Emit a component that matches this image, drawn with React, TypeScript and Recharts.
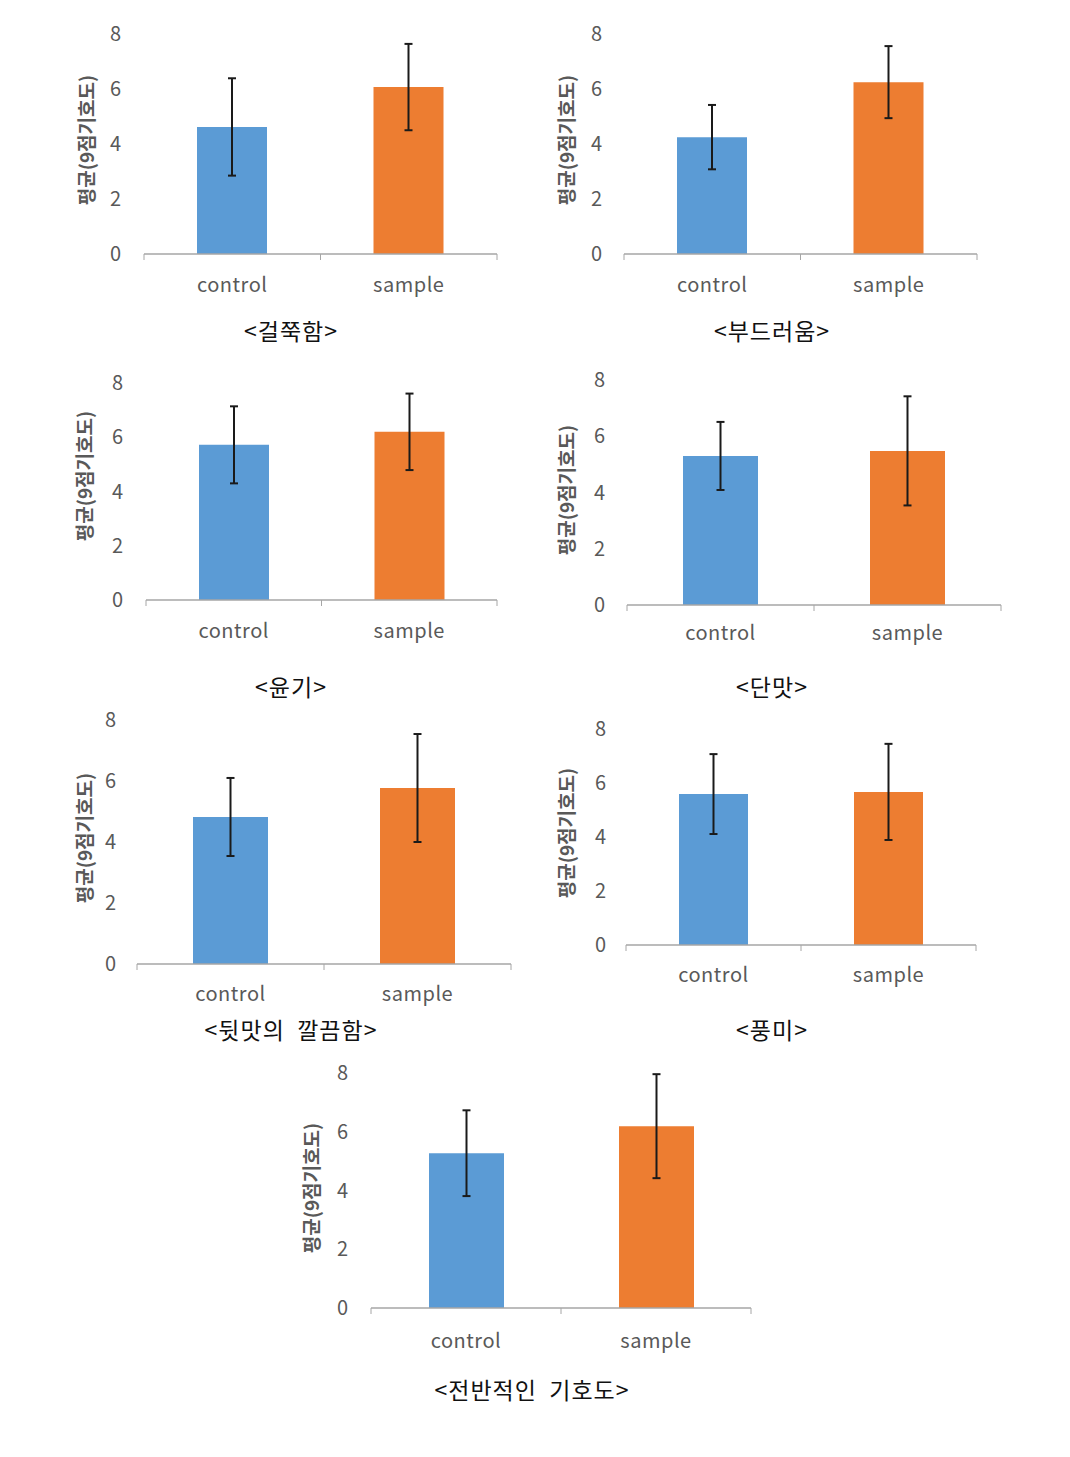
import React from 'react';
import { BarChart, Bar, XAxis, YAxis, ErrorBar, Cell } from 'recharts';

const categories = ['control', 'sample'];
const attributes = ['걸쭉함', '부드러움', '윤기', '단맛', '뒷맛의 깔끔함', '풍미', '전반적인 기호도'];
const controlMeans = [4.62, 4.25, 5.72, 5.3, 4.82, 5.59, 5.27];
const controlErrs = [1.77, 1.17, 1.42, 1.21, 1.28, 1.48, 1.46];
const sampleMeans = [6.07, 6.25, 6.2, 5.48, 5.77, 5.67, 6.19];
const sampleErrs = [1.57, 1.31, 1.41, 1.94, 1.77, 1.78, 1.77];
const yTicks = [0, 2, 4, 6, 8];
const yLabel = '평균(9점기호도)';

const barColors = ['#5B9BD5', '#ED7D31'];
const font = '"Noto Sans CJK KR", "Noto Sans", sans-serif';

// where each small chart sits on the page (plot left/right, top of 8, baseline 0)
const panels = [
  { L: 144, R: 497, y8: 34, y0: 254, tickX: 115, bar: 70, ylx: 85, yly: 140, catDy: 33, cx: 291, cy: 330 },
  { L: 624, R: 977, y8: 34, y0: 254, tickX: 596, bar: 70, ylx: 565, yly: 140, catDy: 33, cx: 772, cy: 330 },
  { L: 146, R: 497, y8: 383, y0: 600, tickX: 117, bar: 70, ylx: 83, yly: 476, catDy: 33, cx: 291, cy: 686 },
  { L: 627, R: 1001, y8: 380, y0: 605, tickX: 599, bar: 75, ylx: 565, yly: 490, catDy: 30, cx: 772, cy: 686 },
  { L: 137, R: 511, y8: 720, y0: 964, tickX: 110, bar: 75, ylx: 83, yly: 838, catDy: 32, cx: 291, cy: 1029 },
  { L: 626, R: 976, y8: 729, y0: 945, tickX: 600, bar: 69, ylx: 565, yly: 833, catDy: 32, cx: 772, cy: 1029 },
  { L: 371, R: 751, y8: 1073, y0: 1308, tickX: 342, bar: 75, ylx: 310, yly: 1188, catDy: 35, cx: 532, cy: 1389 },
];

const CatTick = (props: any) => {
  const { x, y, payload, index, catDy } = props;
  const off = payload.offset || 0;
  return (
    <g>
      {index === 0 && <line x1={x - off} x2={x - off} y1={y} y2={y + 6} stroke="#a6a6a6" />}
      <line x1={x + off} x2={x + off} y1={y} y2={y + 6} stroke="#a6a6a6" />
      <text
        x={x}
        y={y + catDy}
        textAnchor="middle"
        dominantBaseline="middle"
        fill="#595959"
        fontSize={20}
        letterSpacing={0.5}
        fontFamily={font}
      >
        {payload.value}
      </text>
    </g>
  );
};

const Panel = ({ i }: { i: number }) => {
  const p = panels[i];
  const data = categories.map((c, k) => ({
    name: c,
    mean: k === 0 ? controlMeans[i] : sampleMeans[i],
    err: k === 0 ? controlErrs[i] : sampleErrs[i],
  }));
  const yw = 60;
  const top = 20;
  const w = p.R - p.L + yw + 10;
  const h = p.y0 - p.y8 + top + 50;
  return (
    <>
      <div style={{ position: 'absolute', left: p.L - yw, top: p.y8 - top }}>
        <BarChart width={w} height={h} data={data} margin={{ top, right: 10, left: 0, bottom: 0 }}>
          <XAxis
            dataKey="name"
            height={50}
            tickSize={0}
            tickMargin={0}
            axisLine={{ stroke: '#a6a6a6', strokeWidth: 1.5 }}
            tick={<CatTick catDy={p.catDy} />}
          />
          <YAxis
            width={yw}
            domain={[0, 8]}
            ticks={yTicks}
            axisLine={false}
            tickLine={false}
            tickSize={0}
            tickMargin={p.L - p.tickX - 6}
            tick={{ fill: '#595959', fontSize: 20, fontFamily: font }}
          />
          <Bar dataKey="mean" barSize={p.bar} isAnimationActive={false}>
            {data.map((d, k) => (
              <Cell key={d.name} fill={barColors[k]} />
            ))}
            <ErrorBar dataKey="err" width={4} stroke="#1a1a1a" strokeWidth={2} direction="y" />
          </Bar>
        </BarChart>
      </div>
      <div
        style={{
          position: 'absolute',
          left: p.ylx,
          top: p.yly,
          transform: 'translate(-50%, -50%) rotate(-90deg)',
          whiteSpace: 'nowrap',
          fontFamily: font,
          fontSize: 19,
          fontWeight: 700,
          color: '#595959',
        }}
      >
        {yLabel}
      </div>
      <div
        style={{
          position: 'absolute',
          left: p.cx,
          top: p.cy,
          transform: 'translate(-50%, -50%)',
          whiteSpace: 'pre',
          fontFamily: font,
          fontSize: 23,
          letterSpacing: 1,
          color: '#111',
        }}
      >
        {'<' + attributes[i].replace(' ', '  ') + '>'}
      </div>
    </>
  );
};

export default function App() {
  return (
    <div style={{ position: 'absolute', left: 0, top: 0, width: 1070, height: 1457, background: '#fff' }}>
      {attributes.map((a, i) => (
        <Panel key={a} i={i} />
      ))}
    </div>
  );
}
